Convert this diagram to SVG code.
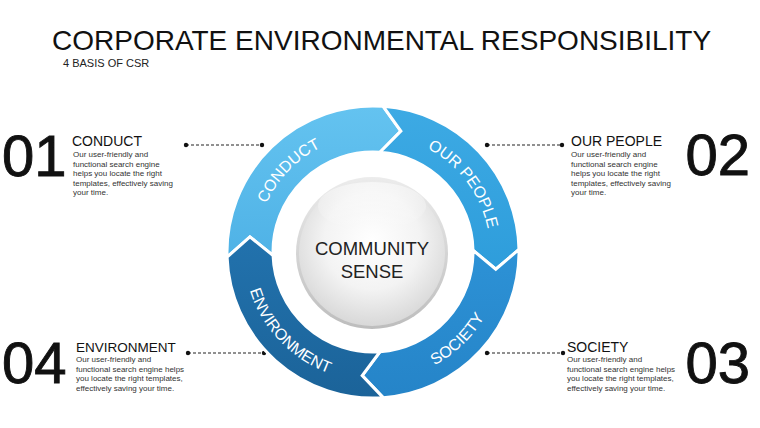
<svg xmlns="http://www.w3.org/2000/svg" xmlns:xlink="http://www.w3.org/1999/xlink" width="760" height="428" viewBox="0 0 760 428">
<style>
  text { font-family: "Liberation Sans", Arial, sans-serif; }
  .title { font-size: 28px; fill: #111; }
  .sub { font-size: 11px; fill: #222; }
  .num { font-size: 58px; fill: #111; stroke: #111; stroke-width: 0.9; }
  .head { font-size: 14px; fill: #111; }
  .body { font-size: 8px; fill: #333; }
  .ring { font-size: 16px; fill: #fff; }
  .seg { stroke: #fff; stroke-width: 3; stroke-linejoin: miter; }
  .center { font-size: 18.5px; fill: #222; text-anchor: middle; }
  .conn line { stroke: #222; stroke-width: 1.1; stroke-dasharray: 3 2; }
  .conn circle { fill: #111; }
</style>
<defs>
  <linearGradient id="gC" x1="0" y1="0" x2="0" y2="1">
    <stop offset="0" stop-color="#64C3F0"/><stop offset="1" stop-color="#4FB2E6"/>
  </linearGradient>
  <linearGradient id="gP" x1="0" y1="0" x2="0" y2="1">
    <stop offset="0" stop-color="#3DAAE4"/><stop offset="1" stop-color="#2E9DDB"/>
  </linearGradient>
  <linearGradient id="gS" x1="0" y1="0" x2="0" y2="1">
    <stop offset="0" stop-color="#2D92D6"/><stop offset="1" stop-color="#2584C8"/>
  </linearGradient>
  <linearGradient id="gE" x1="0" y1="0" x2="0" y2="1">
    <stop offset="0" stop-color="#2272AD"/><stop offset="1" stop-color="#1B6399"/>
  </linearGradient>
  <linearGradient id="rim" x1="0" y1="0" x2="0" y2="1">
    <stop offset="0" stop-color="#ECECEC"/><stop offset="1" stop-color="#BDBDBD"/>
  </linearGradient>
  <radialGradient id="ball" cx="0.5" cy="0.42" r="0.6">
    <stop offset="0" stop-color="#FFFFFF"/><stop offset="0.55" stop-color="#F3F3F3"/><stop offset="1" stop-color="#D6D6D6"/>
  </radialGradient>
  <linearGradient id="gloss" x1="0" y1="0" x2="0" y2="1">
    <stop offset="0" stop-color="#FFFFFF" stop-opacity="0.9"/><stop offset="1" stop-color="#FFFFFF" stop-opacity="0"/>
  </linearGradient>
  <path id="arcTop" d="M 256 252 A 117 117 0 0 1 490 252"/>
  <path id="arcBot" d="M 244 252 A 129 129 0 0 0 502 252"/>
</defs>

<g id="title">
  <text class="title" x="52" y="50">CORPORATE ENVIRONMENTAL RESPONSIBILITY</text>
  <text class="sub" x="63" y="67">4 BASIS OF CSR</text>
</g>

<g id="connectors" class="conn">
  <line x1="186" y1="145" x2="262" y2="145"/><circle cx="186" cy="145" r="2.2"/><circle cx="262" cy="145" r="2.2"/>
  <line x1="487" y1="145" x2="562" y2="145"/><circle cx="487" cy="145" r="2.2"/><circle cx="562" cy="145" r="2.2"/>
  <line x1="188" y1="353" x2="264" y2="353"/><circle cx="188" cy="353" r="2.2"/><circle cx="264" cy="353" r="2.2"/>
  <line x1="487" y1="353" x2="563" y2="353"/><circle cx="487" cy="353" r="2.2"/><circle cx="563" cy="353" r="2.2"/>
</g>

<g id="seg-conduct">
  <path class="seg" fill="url(#gC)" d="M 227.09 257.10 A 146 146 0 0 1 383.19 106.36 L 400.89 131.18 L 379.98 152.24 A 100 100 0 0 0 273.06 255.49 L 249.92 236.89 Z"/>
  <text class="ring"><textPath xlink:href="#arcTop" href="#arcTop" startOffset="24.4%" text-anchor="middle">CONDUCT</textPath></text>
</g>
<g id="seg-ourpeople">
  <path class="seg" fill="url(#gP)" d="M 383.19 106.36 A 146 146 0 0 1 518.98 249.45 L 495.79 269.26 L 472.98 250.25 A 100 100 0 0 0 379.98 152.24 L 400.89 131.18 Z"/>
  <text class="ring"><textPath xlink:href="#arcTop" href="#arcTop" startOffset="79.5%" text-anchor="middle">OUR PEOPLE</textPath></text>
</g>
<g id="seg-society">
  <path class="seg" fill="url(#gS)" d="M 518.98 249.45 A 146 146 0 0 1 383.19 397.64 L 362.19 375.53 L 379.98 351.76 A 100 100 0 0 0 472.98 250.25 L 495.79 269.26 Z"/>
  <text class="ring"><textPath xlink:href="#arcBot" href="#arcBot" startOffset="74.5%" text-anchor="middle">SOCIETY</textPath></text>
</g>
<g id="seg-environment">
  <path class="seg" fill="url(#gE)" d="M 383.19 397.64 A 146 146 0 0 1 227.09 257.10 L 249.92 236.89 L 273.06 255.49 A 100 100 0 0 0 379.98 351.76 L 362.19 375.53 Z"/>
  <text class="ring"><textPath xlink:href="#arcBot" href="#arcBot" startOffset="24.2%" text-anchor="middle">ENVIRONMENT</textPath></text>
</g>

<g id="center">
  <circle cx="372" cy="253" r="76" fill="url(#rim)"/>
  <circle cx="372" cy="253" r="73" fill="url(#ball)"/>
  <ellipse cx="372" cy="206" rx="54" ry="24" fill="url(#gloss)" opacity="0.6"/>
  <text class="center" x="372" y="255">COMMUNITY</text>
  <text class="center" x="372" y="278">SENSE</text>
</g>

<g id="item-01">
  <text class="num" x="2" y="176">01</text>
  <text class="head" x="72" y="146">CONDUCT</text>
  <text class="body" x="73" y="157">Our user-friendly  and</text>
  <text class="body" x="73" y="166.5">functional search engine</text>
  <text class="body" x="73" y="176">helps you locate the right</text>
  <text class="body" x="73" y="185.5">templates, effectively saving</text>
  <text class="body" x="73" y="195">your time.</text>
</g>
<g id="item-02">
  <text class="num" x="750" y="175" text-anchor="end">02</text>
  <text class="head" x="571" y="146">OUR PEOPLE</text>
  <text class="body" x="571" y="157">Our user-friendly  and</text>
  <text class="body" x="571" y="166.5">functional search engine</text>
  <text class="body" x="571" y="176">helps you locate the right</text>
  <text class="body" x="571" y="185.5">templates, effectively saving</text>
  <text class="body" x="571" y="195">your time.</text>
</g>
<g id="item-03">
  <text class="num" x="750" y="383" text-anchor="end">03</text>
  <text class="head" x="567" y="352">SOCIETY</text>
  <text class="body" x="567" y="362">Our user-friendly  and</text>
  <text class="body" x="567" y="371.5">functional search engine helps</text>
  <text class="body" x="567" y="381">you locate the right templates,</text>
  <text class="body" x="567" y="390.5">effectively  saving your time.</text>
</g>
<g id="item-04">
  <text class="num" x="2" y="383">04</text>
  <text class="head" x="76" y="352" style="font-size:13.5px">ENVIRONMENT</text>
  <text class="body" x="76" y="362">Our user-friendly  and</text>
  <text class="body" x="76" y="371.5">functional search engine helps</text>
  <text class="body" x="76" y="381">you locate the right templates,</text>
  <text class="body" x="76" y="390.5">effectively  saving your time.</text>
</g>
</svg>
